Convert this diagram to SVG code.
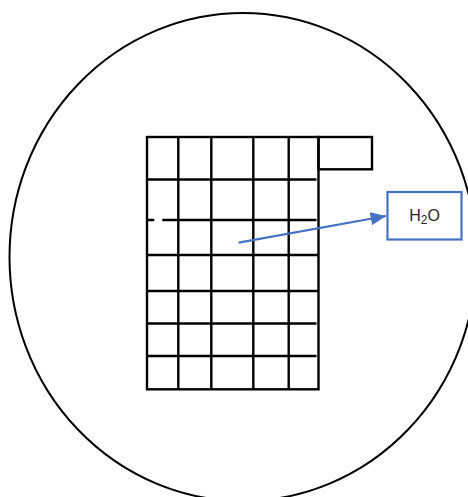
<svg xmlns="http://www.w3.org/2000/svg" width="468" height="497" viewBox="0 0 468 497">
<style>
.g{stroke:#000;stroke-width:2.4;fill:none}
.blue{stroke:#4472C4;stroke-width:2.2;fill:none}
.t{font-family:"Liberation Sans",Arial,sans-serif;font-size:16px;fill:#262626}
</style>
<defs>
<marker id="ah" viewBox="0 0 14 12" refX="14" refY="6" markerWidth="7" markerHeight="6" markerUnits="strokeWidth" orient="auto">
<path d="M0,0 L14,6 L0,12 z" fill="#4472C4"/>
</marker>
</defs>
<rect width="468" height="497" fill="#fff"/>
<g id="circle">
<ellipse cx="243" cy="257" rx="233.5" ry="244" fill="none" stroke="#000" stroke-width="2"/>
</g>
<g id="grid">
<rect class="g" x="147" y="137" width="171.5" height="252.3"/>
<rect class="g" x="318.5" y="137" width="53.5" height="32.3"/>
<path class="g" d="M178.3,137V389.3 M211.3,137V389.3 M253.3,137V389.3 M288.7,137V389.3"/>
<path class="g" d="M147,179.5H316.5 M147,220H154.3 M162.3,220H316.5 M147,255H318.5 M147,291H318.5 M147,323.5H316.5 M147,356H316.5"/>
</g>
<g id="connectors">
<line class="blue" x1="238.7" y1="242.7" x2="386" y2="216" marker-end="url(#ah)"/>
</g>
<g id="h2o">
<rect class="blue" x="387.5" y="192" width="74" height="47.5"/>
<text class="t" x="424.5" y="221" text-anchor="middle">H<tspan font-size="12" dy="3">2</tspan><tspan dy="-3">O</tspan></text>
</g>
</svg>
